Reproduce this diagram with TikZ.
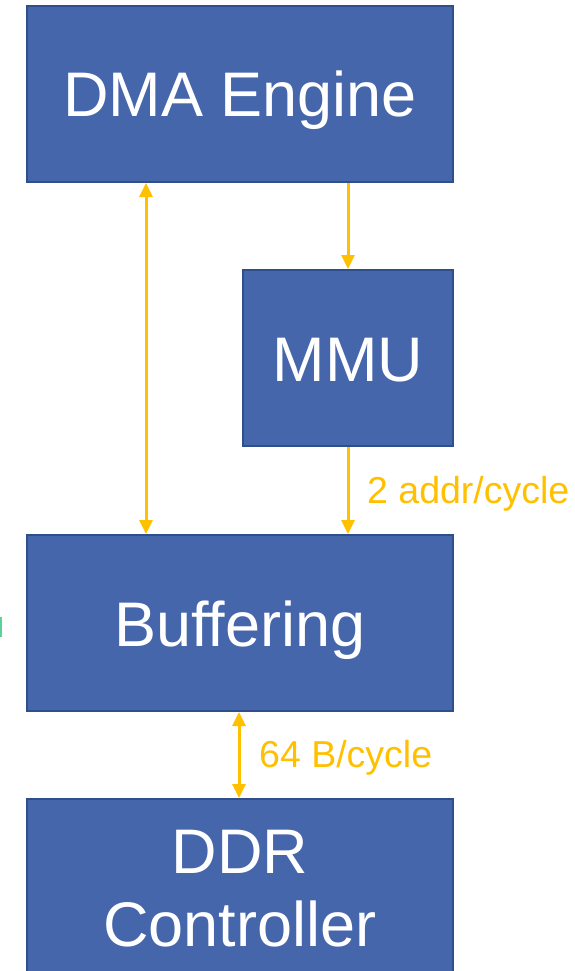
\documentclass[tikz,border=0pt]{standalone}
\usepackage{fontspec}
\setmainfont{Liberation Sans}
\usetikzlibrary{arrows.meta}
\definecolor{boxblue}{HTML}{4666AC}
\definecolor{boxedge}{HTML}{2F4F8A}
\definecolor{arrowyellow}{HTML}{FFC000}
\definecolor{mint}{HTML}{5AD39A}
\begin{document}
\begin{tikzpicture}[x=1pt,y=-1pt,
  block/.style={draw=boxedge, line width=2pt, fill=boxblue, text=white,
    minimum height=176pt, inner sep=0pt, align=center,
    text height=59pt, text depth=13pt,
    font=\fontsize{63}{73}\selectfont},
  conn/.style={draw=arrowyellow, line width=3pt,
    -{Triangle[width=13pt,length=14pt]}},
  biconn/.style={draw=arrowyellow, line width=3pt,
    {Triangle[width=13pt,length=14pt]}-{Triangle[width=13pt,length=14pt]}},
  lbl/.style={text=arrowyellow, font=\fontsize{37.5}{42}\selectfont, inner sep=0pt, anchor=west}]
\useasboundingbox (0,0) rectangle (574,971);
\fill[white] (0,0) rectangle (574,971);
\node[block, minimum width=426pt] (dma) at (240,94) {DMA Engine};
\node[block, minimum width=210pt] (mmu) at (348,358) {MMU};
\node[block, minimum width=426pt] (buf) at (240,623) {Buffering};
\node[block, minimum width=426pt, text height=132pt] (ddr) at (240,887) {DDR\\Controller};
\fill[mint] (0,617) rectangle (2,637);
\draw[biconn] ([xshift=120pt]dma.south west) -- ([xshift=120pt]buf.north west);
\draw[conn] (dma.south -| mmu.north) -- (mmu.north);
\draw[conn] (mmu.south) -- (mmu.south |- buf.north);
\draw[biconn] ([xshift=-1pt]buf.south) -- ([xshift=-1pt]ddr.north);
\node[lbl] (l1) at (367,494) {2 addr/cycle};
\node[lbl] (l2) at (259,758) {64 B/cycle};
\end{tikzpicture}
\end{document}
